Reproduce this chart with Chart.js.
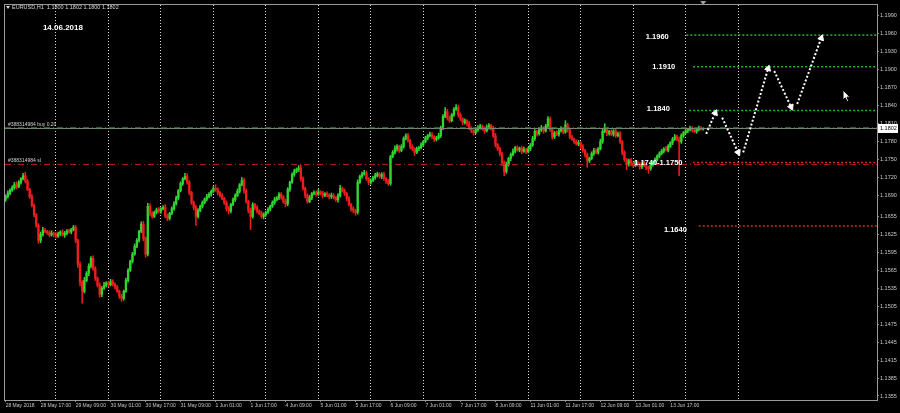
<!DOCTYPE html>
<html>
<head>
<meta charset="utf-8">
<title>EURUSD H1</title>
<script src="https://cdn.jsdelivr.net/npm/chart.js@4.4.1/dist/chart.umd.min.js"></script>
<style>
    html, body { margin: 0; padding: 0; background: #000; }
    #chart { display: block; }
</style>
</head>
<body>
<canvas id="chart" width="900" height="413"></canvas>
<script>
// Time axis: one label every 16 hourly bars
const timeLabels = ['28 May 2018', '28 May 17:00', '29 May 09:00', '30 May 01:00', '30 May 17:00',
    '31 May 09:00', '1 Jun 01:00', '1 Jun 17:00', '4 Jun 09:00', '5 Jun 01:00', '5 Jun 17:00',
    '6 Jun 09:00', '7 Jun 01:00', '7 Jun 17:00', '8 Jun 09:00', '11 Jun 01:00', '11 Jun 17:00',
    '12 Jun 09:00', '13 Jun 01:00', '13 Jun 17:00'];
const timeLabelBars = [0, 16, 32, 48, 64, 80, 96, 112, 128, 144, 160, 176, 192, 208, 224, 240, 256, 272, 288, 304];
// Day separators (vertical dotted grid)
const dayStartBars = [23, 47, 71, 95, 119, 143, 167, 191, 215, 239, 263, 287, 311, 335];

// Price axis labels
const priceTicks = [1.1990, 1.1960, 1.1930, 1.1900, 1.1870, 1.1840, 1.1810, 1.1780, 1.1750, 1.1720,
    1.1690, 1.1655, 1.1625, 1.1595, 1.1565, 1.1535, 1.1505, 1.1475, 1.1445, 1.1415, 1.1385, 1.1355];

// Hourly closes, 28 May 01:00 .. 14 Jun 08:00
const firstOpen = 1.1684;
const closes = [
    1.1688, 1.1694, 1.1699, 1.1703, 1.1708, 1.1705, 1.1712, 1.1718, 1.1723, 1.1714,
    1.1700, 1.1688, 1.1673, 1.1658, 1.1640, 1.1615, 1.1625, 1.1632, 1.1630, 1.1628,
    1.1624, 1.1627, 1.1625, 1.1622, 1.1626, 1.1629, 1.1624, 1.1627, 1.1631, 1.1629,
    1.1633, 1.1637, 1.1615, 1.1575, 1.1545, 1.1530, 1.1548, 1.1560, 1.1572, 1.1585,
    1.1568, 1.1552, 1.1540, 1.1525, 1.1535, 1.1540, 1.1544, 1.1541, 1.1546, 1.1542,
    1.1537, 1.1530, 1.1522, 1.1518, 1.1530, 1.1548, 1.1565, 1.1580, 1.1592, 1.1605,
    1.1615, 1.1630, 1.1642, 1.1618, 1.1592, 1.1672, 1.1660, 1.1655, 1.1662, 1.1666,
    1.1664, 1.1668, 1.1670, 1.1656, 1.1652, 1.1660, 1.1668, 1.1676, 1.1686, 1.1698,
    1.1710, 1.1718, 1.1722, 1.1712, 1.1695, 1.1678, 1.1670, 1.1655, 1.1665, 1.1672,
    1.1678, 1.1684, 1.1688, 1.1692, 1.1697, 1.1702, 1.1700, 1.1695, 1.1690, 1.1685,
    1.1678, 1.1668, 1.1664, 1.1675, 1.1683, 1.1690, 1.1697, 1.1708, 1.1715, 1.1698,
    1.1680, 1.1665, 1.1655, 1.1675, 1.1670, 1.1664, 1.1660, 1.1655, 1.1658, 1.1662,
    1.1667, 1.1672, 1.1678, 1.1683, 1.1686, 1.1692, 1.1688, 1.1680, 1.1676, 1.1700,
    1.1712, 1.1725, 1.1730, 1.1733, 1.1736, 1.1718, 1.1702, 1.1690, 1.1680, 1.1686,
    1.1693, 1.1695, 1.1692, 1.1696, 1.1694, 1.1690, 1.1693, 1.1691, 1.1688, 1.1690,
    1.1686, 1.1683, 1.1690, 1.1702, 1.1698, 1.1693, 1.1685, 1.1675, 1.1668, 1.1664,
    1.1662, 1.1712, 1.1722, 1.1726, 1.1728, 1.1718, 1.1712, 1.1715, 1.1720, 1.1723,
    1.1726, 1.1722, 1.1725, 1.1718, 1.1714, 1.1710, 1.1755, 1.1762, 1.1768, 1.1772,
    1.1765, 1.1772, 1.1785, 1.1790, 1.1782, 1.1772, 1.1768, 1.1762, 1.1768, 1.1770,
    1.1775, 1.1780, 1.1786, 1.1790, 1.1792, 1.1788, 1.1784, 1.1786, 1.1790, 1.1803,
    1.1822, 1.1830, 1.1820, 1.1815, 1.1825, 1.1834, 1.1837, 1.1825, 1.1818, 1.1812,
    1.1815, 1.1810, 1.1802, 1.1798, 1.1795, 1.1800, 1.1803, 1.1806, 1.1802, 1.1798,
    1.1804, 1.1807, 1.1803, 1.1790, 1.1775, 1.1768, 1.1760, 1.1745, 1.1730, 1.1742,
    1.1752, 1.1758, 1.1764, 1.1770, 1.1766, 1.1769, 1.1764, 1.1767, 1.1763, 1.1768,
    1.1774, 1.1785, 1.1797, 1.1793, 1.1800, 1.1803, 1.1798, 1.1806, 1.1818, 1.1800,
    1.1788, 1.1795, 1.1792, 1.1798, 1.1802, 1.1796, 1.1808, 1.1800, 1.1788, 1.1784,
    1.1780, 1.1776, 1.1778, 1.1772, 1.1765, 1.1758, 1.1748, 1.1752, 1.1760, 1.1765,
    1.1762, 1.1768, 1.1780, 1.1797, 1.1800, 1.1794, 1.1797, 1.1792, 1.1798, 1.1790,
    1.1793, 1.1780, 1.1762, 1.1750, 1.1742, 1.1748, 1.1744, 1.1740, 1.1746, 1.1742,
    1.1738, 1.1744, 1.1740, 1.1736, 1.1735, 1.1741, 1.1746, 1.1750, 1.1756, 1.1760,
    1.1764, 1.1768, 1.1766, 1.1772, 1.1778, 1.1784, 1.1788, 1.1784, 1.1780, 1.1790,
    1.1795, 1.1798, 1.1800, 1.1803, 1.1799, 1.1797, 1.1800, 1.1803, 1.1801, 1.1802
];
// Shadows above / below the body, in pips
const upWick = [
    3, 4, 2, 3, 4, 5, 3, 2, 4, 6,  3, 2, 4, 3, 2, 3, 4, 5, 3, 2,  3, 4, 2, 3, 3, 2, 4, 3, 2, 3,
    2, 3, 3, 2, 4, 3, 5, 3, 4, 3,  4, 3, 2, 4, 3, 5, 2, 3, 4, 3,  2, 3, 2, 3, 2, 4, 3, 2, 3, 4,
    3, 2, 4, 5, 3, 5, 4, 3, 2, 3,  4, 2, 3, 5, 3, 2, 3, 4, 3, 2,  3, 2, 5, 4, 3, 2, 3, 4, 3, 2,
    3, 2, 4, 3, 2, 3, 6, 3, 2, 3,  2, 3, 4, 2, 3, 3, 4, 2, 5, 4,  3, 2, 4, 3, 2, 3, 2, 4, 3, 2,
    3, 2, 3, 4, 2, 3, 3, 2, 4, 3,  2, 3, 4, 3, 4, 5, 3, 2, 3, 4,  2, 3, 3, 4, 2, 3, 2, 3, 2, 4,
    3, 2, 3, 5, 2, 3, 2, 3, 2, 3,  3, 4, 2, 3, 4, 3, 2, 3, 2, 4,  3, 2, 3, 4, 2, 3, 2, 3, 5, 3,
    2, 3, 3, 3, 4, 2, 3, 2, 3, 2,  3, 2, 3, 2, 4, 3, 2, 3, 4, 3,  3, 7, 4, 3, 2, 3, 5, 4, 3, 2,
    3, 2, 4, 3, 2, 3, 4, 3, 2, 3,  4, 3, 2, 3, 4, 2, 3, 2, 3, 4,  2, 3, 4, 2, 3, 2, 3, 4, 2, 3,
    3, 4, 3, 2, 3, 4, 2, 3, 4, 3,  3, 2, 3, 4, 3, 2, 7, 3, 2, 3,  2, 3, 4, 2, 3, 2, 3, 2, 3, 4,
    3, 2, 4, 5, 10, 3, 2, 3, 2, 3, 3, 4, 2, 3, 2, 3, 4, 2, 3, 2,  3, 2, 3, 2, 3, 4, 2, 3, 2, 3,
    3, 2, 4, 3, 2, 3, 4, 3, 4, 3,  2, 3, 2, 3, 2, 3, 2, 3, 2, 0
];
const downWick = [
    4, 2, 3, 2, 3, 4, 2, 3, 2, 3,  2, 3, 2, 4, 3, 5, 4, 3, 2, 3,  3, 2, 4, 3, 2, 3, 2, 4, 3, 2,
    3, 2, 4, 5, 6, 20, 3, 2, 4, 3, 3, 4, 3, 5, 4, 2, 3, 4, 2, 3,  3, 2, 4, 5, 3, 2, 3, 2, 3, 2,
    2, 3, 2, 4, 5, 3, 4, 3, 2, 3,  3, 4, 2, 3, 4, 3, 2, 3, 2, 3,  2, 3, 2, 3, 4, 3, 4, 15, 3, 2,
    3, 2, 3, 2, 3, 2, 3, 4, 3, 2,  3, 4, 5, 3, 2, 3, 2, 3, 2, 4,  3, 4, 22, 3, 4, 3, 2, 3, 4, 3,
    2, 3, 2, 3, 2, 3, 4, 3, 5, 3,  3, 2, 3, 2, 3, 4, 3, 4, 3, 2,  3, 2, 3, 2, 3, 4, 2, 3, 4, 3,
    2, 3, 4, 3, 2, 3, 4, 3, 4, 3,  5, 3, 2, 3, 2, 3, 4, 3, 2, 3,  2, 3, 4, 3, 4, 3, 3, 2, 3, 4,
    3, 2, 3, 2, 3, 4, 3, 5, 2, 3,  2, 3, 2, 3, 2, 3, 4, 3, 2, 3,  3, 2, 4, 3, 2, 3, 2, 4, 3, 4,
    3, 4, 2, 3, 4, 2, 3, 2, 3, 4,  2, 3, 4, 3, 4, 3, 4, 5, 7, 3,  3, 4, 2, 3, 2, 3, 4, 2, 3, 2,
    3, 2, 3, 4, 2, 3, 4, 2, 3, 3,  4, 3, 2, 3, 2, 3, 2, 4, 3, 2,  3, 2, 3, 4, 3, 4, 11, 3, 2, 3,
    2, 3, 2, 3, 2, 4, 3, 2, 3, 3,  2, 3, 4, 3, 9, 3, 4, 3, 2, 3,  4, 3, 2, 3, 8, 3, 2, 3, 2, 3,
    2, 3, 2, 3, 2, 3, 2, 3, 57, 3, 3, 2, 3, 2, 3, 2, 3, 2, 2, 2
];

// Order lines
const bidPrice = 1.1802;
const buyPrice = 1.1803;
const stopPrice = 1.1742;

// Drawn levels (price, first bar)
const levelPrices = [1.1958, 1.1905, 1.1832, 1.1745, 1.1639];
const levelStartBars = [311.3, 314.4, 312.6, 314.4, 317];
const levelIsSupport = [false, false, false, true, true];
const levelCaptions = ['1.1960', '1.1910', '1.1840', '1.1740-1.1750', '1.1640'];
const captionBars = [298, 301, 298.5, 298.5, 306.3];
const captionPrices = [1.1955, 1.1905, 1.1834, 1.1745, 1.1632];

// Forecast arrows: start/end bar and price of each leg
const arrowBars = [[320.4, 324.5], [327.7, 335], [337.3, 348.7], [351.5, 359.2], [362, 373]];
const arrowPrices = [[1.1793, 1.1828], [1.1820, 1.1762], [1.1762, 1.1902], [1.1898, 1.1838], [1.1843, 1.1953]];

// View window
const xMin = -0.3, xMax = 398.5;
const yMin = 1.13483, yMax = 1.20083;

const bullColor = '#2fd62f';
const bearColor = '#ee1c1c';
const axisFont = '"Liberation Sans", Arial, sans-serif';

// Build candle pieces
const opens = closes.map((c, i) => i === 0 ? firstOpen : closes[i - 1]);
const highs = closes.map((c, i) => Math.max(opens[i], c) + upWick[i] / 10000);
const lows = closes.map((c, i) => Math.min(opens[i], c) - downWick[i] / 10000);
const candleColors = closes.map((c, i) => c >= opens[i] ? bullColor : bearColor);

const bodyData = closes.map((c, i) => ({ x: i, y: [opens[i], c] }));
const wickData = closes.map((c, i) => ({ x: i, y: [lows[i], highs[i]] }));

const datasets = [
    {
        type: 'bar', label: 'body', data: bodyData, grouped: false, order: 5,
        backgroundColor: candleColors, borderWidth: 0, barThickness: 1.7, minBarLength: 1
    },
    {
        type: 'bar', label: 'wick', data: wickData, grouped: false, order: 6,
        backgroundColor: candleColors, borderWidth: 0, barThickness: 0.9
    },
    {
        type: 'line', label: 'bid', order: 2, pointRadius: 0, borderWidth: 1, borderColor: '#8a8a8a',
        data: [{ x: xMin, y: bidPrice }, { x: xMax, y: bidPrice }]
    },
    {
        type: 'line', label: 'buy', order: 1, pointRadius: 0, borderWidth: 1, borderColor: '#2f9a2f',
        borderDash: [6, 3, 1, 3], data: [{ x: xMin, y: buyPrice }, { x: xMax, y: buyPrice }]
    },
    {
        type: 'line', label: 'sl', order: 1, pointRadius: 0, borderWidth: 1, borderColor: '#c41a1a',
        borderDash: [6, 3, 1, 3], data: [{ x: xMin, y: stopPrice }, { x: xMax, y: stopPrice }]
    }
];

levelPrices.forEach((p, k) => {
    datasets.push({
        type: 'line', label: 'level ' + levelCaptions[k], order: 1, pointRadius: 0, borderWidth: 1.5,
        borderColor: levelIsSupport[k] ? '#d42a2a' : '#2bb52b', borderDash: [2, 2],
        data: [{ x: levelStartBars[k], y: p }, { x: xMax, y: p }]
    });
});

// Arrow legs and their heads
const headRotation = [23, 155, 17, 155, 20];
arrowBars.forEach((b, k) => {
    datasets.push({
        type: 'line', label: 'arrow ' + k, order: 0, pointRadius: 0, borderWidth: 2,
        borderColor: '#ffffff', borderDash: [2, 2],
        data: [{ x: b[0], y: arrowPrices[k][0] }, { x: b[1], y: arrowPrices[k][1] }]
    });
});
datasets.push({
    type: 'scatter', label: 'heads', order: 0, showLine: false,
    pointStyle: 'triangle', pointRadius: 3.5, rotation: headRotation,
    backgroundColor: '#ffffff', borderColor: '#ffffff', borderWidth: 1,
    data: arrowBars.map((b, k) => ({ x: b[1], y: arrowPrices[k][1] }))
});

// Texts and small chrome drawn on top
const overlay = {
    id: 'overlay',
    afterDraw(chart) {
        const { ctx, chartArea, scales: { x, y } } = chart;
        ctx.save();

        // outer frame
        ctx.strokeStyle = '#9a9a9a';
        ctx.lineWidth = 1;
        ctx.strokeRect(chartArea.left - 0.5, chartArea.top - 0.5, chartArea.right - chartArea.left + 1, chartArea.bottom - chartArea.top + 1);

        // symbol header
        ctx.fillStyle = '#d8d8d8';
        ctx.beginPath();
        ctx.moveTo(6, 6); ctx.lineTo(10, 6); ctx.lineTo(8, 9); ctx.closePath(); ctx.fill();
        ctx.font = '5.5px ' + axisFont;
        ctx.textAlign = 'left';
        ctx.textBaseline = 'middle';
        ctx.fillText('EURUSD,H1  1.1800 1.1802 1.1800 1.1802', 12, 7.5);

        // order line captions
        ctx.fillStyle = '#cfcfcf';
        ctx.font = '5px ' + axisFont;
        ctx.fillText('#388314984 buy 0.20', 8, y.getPixelForValue(buyPrice) - 3.5);
        ctx.fillText('#388314984 sl', 8, y.getPixelForValue(stopPrice) - 3.5);

        // level captions and date
        ctx.fillStyle = '#ffffff';
        ctx.font = 'bold 7.5px ' + axisFont;
        ctx.textAlign = 'center';
        levelCaptions.forEach((t, k) => {
            ctx.fillText(t, x.getPixelForValue(captionBars[k]), y.getPixelForValue(captionPrices[k]));
        });
        ctx.font = 'bold 8px ' + axisFont;
        ctx.fillText('14.06.2018', x.getPixelForValue(26.2), y.getPixelForValue(1.1970));

        // chart shift marker
        const shiftX = x.getPixelForValue(319);
        ctx.fillStyle = '#a0a0a0';
        ctx.beginPath();
        ctx.moveTo(shiftX - 3, 1); ctx.lineTo(shiftX + 3, 1); ctx.lineTo(shiftX, 5); ctx.closePath(); ctx.fill();

        // mouse pointer
        ctx.fillStyle = '#ffffff';
        ctx.strokeStyle = '#000000';
        ctx.beginPath();
        ctx.moveTo(843, 90); ctx.lineTo(843, 100); ctx.lineTo(845.3, 97.8); ctx.lineTo(847, 101.5);
        ctx.lineTo(848.6, 100.8); ctx.lineTo(847, 97.2); ctx.lineTo(850, 97.2); ctx.closePath();
        ctx.fill(); ctx.stroke();

        // current bid box on the price scale
        const by = y.getPixelForValue(bidPrice);
        ctx.fillStyle = '#ffffff';
        ctx.fillRect(chartArea.right + 1, by - 4.5, 20, 9);
        ctx.fillStyle = '#000000';
        ctx.font = '5.5px ' + axisFont;
        ctx.textAlign = 'left';
        ctx.fillText(bidPrice.toFixed(4), chartArea.right + 3, by + 0.5);

        ctx.restore();
    }
};

new Chart(document.getElementById('chart'), {
    type: 'bar',
    data: { datasets: datasets },
    options: {
        responsive: false,
        animation: false,
        layout: { padding: { left: 4, top: 4, right: 0, bottom: 0 } },
        plugins: { legend: { display: false }, tooltip: { enabled: false } },
        scales: {
            x: {
                type: 'linear', position: 'bottom', min: xMin, max: xMax, offset: false,
                afterBuildTicks: s => { s.ticks = timeLabelBars.map(v => ({ value: v })); },
                afterFit: s => { s.height = 13; },
                ticks: {
                    autoSkip: false, maxRotation: 0, minRotation: 0, align: 'start', padding: 1,
                    color: '#c8c8c8', font: { size: 5, family: axisFont },
                    callback: v => timeLabels[timeLabelBars.indexOf(v)]
                },
                grid: { drawOnChartArea: false, offset: false, tickLength: 2, color: '#8a8a8a' },
                border: { color: '#9a9a9a' }
            },
            xDays: {
                type: 'linear', position: 'top', min: xMin, max: xMax, offset: false,
                afterBuildTicks: s => { s.ticks = dayStartBars.map(v => ({ value: v })); },
                afterFit: s => { s.height = 0; },
                ticks: { display: false },
                grid: { color: '#dcdcdc', lineWidth: 1, drawTicks: false, offset: false },
                border: { display: false, dash: [1, 2] }
            },
            y: {
                type: 'linear', position: 'right', min: yMin, max: yMax,
                afterBuildTicks: s => { s.ticks = priceTicks.map(v => ({ value: v })); },
                afterFit: s => { s.width = 23; },
                ticks: {
                    padding: 1, color: '#c8c8c8', font: { size: 5.5, family: axisFont },
                    callback: v => v.toFixed(4)
                },
                grid: { drawOnChartArea: false, tickLength: 2, color: '#8a8a8a' },
                border: { color: '#b4b4b4' }
            }
        }
    },
    plugins: [overlay]
});
</script>
</body>
</html>
